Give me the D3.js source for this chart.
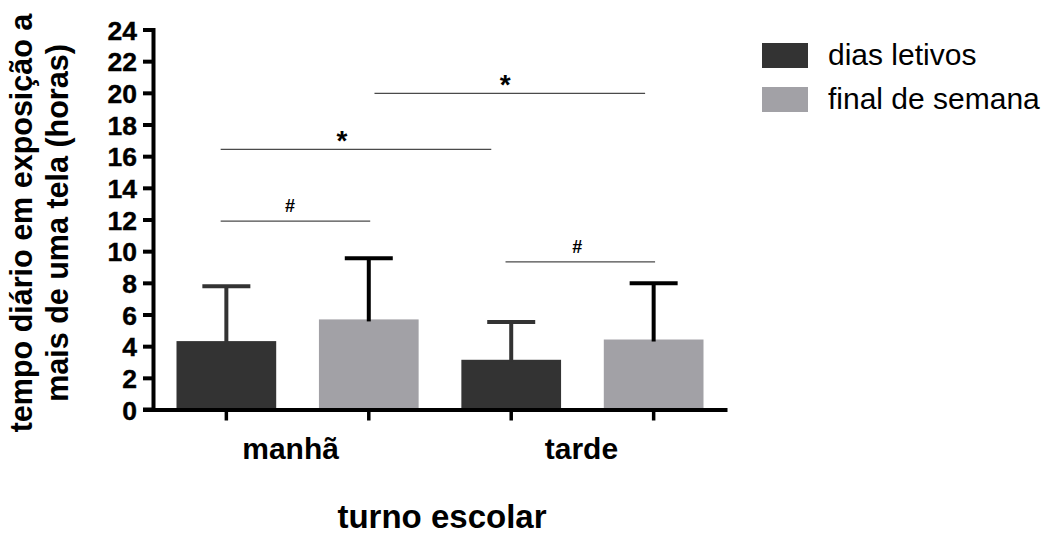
<!DOCTYPE html>
<html>
<head>
<meta charset="utf-8">
<script src="https://cdn.jsdelivr.net/npm/d3@7"></script>
<style>
  html, body { margin: 0; padding: 0; background: #fff; }
  svg { display: block; }
  text { font-family: "Liberation Sans", Arial, sans-serif; fill: #000; }
</style>
</head>
<body>
<svg id="chart" width="1048" height="534"></svg>
<script>
// ---- data ----
const groups = ["manhã", "tarde"];
const series = ["dias letivos", "final de semana"];
const meanDiasLetivos = [4.32, 3.14];
const meanFinalSemana = [5.69, 4.42];
const sdDiasLetivos = [3.47, 2.38];
const sdFinalSemana = [3.87, 3.56];
const yTicks = [0, 2, 4, 6, 8, 10, 12, 14, 16, 18, 20, 22, 24];
// significance brackets (x in bar-index units, y in hours)
const sigFrom = [-0.04, -0.04, 1.04, 1.96];
const sigTo = [1.01, 1.86, 2.94, 3.01];
const sigY = [11.9, 16.43, 19.97, 9.33];
const sigLabelX = [0.447, 0.812, 1.957, 2.463];
const sigLabel = ["#", "*", "*", "#"];

const yTitle = ["tempo diário em exposição a", "mais de uma tela (horas)"];
const xTitle = "turno escolar";

// ---- build ----
const colors = ["#333333", "#a2a1a6"];
const errColors = ["#333333", "#000000"];
const means = [meanDiasLetivos, meanFinalSemana];
const sds = [sdDiasLetivos, sdFinalSemana];

const bars = [];
groups.forEach((g, gi) => {
  series.forEach((s, si) => {
    bars.push({ key: g + "|" + s, group: g, gi, si, mean: means[si][gi], sd: sds[si][gi] });
  });
});

const svg = d3.select("#chart");

const x = d3.scaleBand()
  .domain(bars.map(d => d.key))
  .range([153, 727])
  .paddingInner(0.3)
  .paddingOuter(0.165);

const y = d3.scaleLinear().domain([0, 24]).range([409.5, 29.5]);

const centerOf = k => x(k) + x.bandwidth() / 2;
const idx = d3.scaleLinear().domain([0, 3]).range([centerOf(bars[0].key), centerOf(bars[3].key)]);

// bars
svg.append("g").selectAll("rect").data(bars).join("rect")
  .attr("x", d => x(d.key))
  .attr("width", x.bandwidth())
  .attr("y", d => y(d.mean))
  .attr("height", d => y(0) - y(d.mean))
  .attr("fill", d => colors[d.si]);

// error bars (upper only)
const eb = svg.append("g").selectAll("g").data(bars).join("g");
eb.append("line")
  .attr("x1", d => centerOf(d.key)).attr("x2", d => centerOf(d.key))
  .attr("y1", d => y(d.mean) + 2).attr("y2", d => y(d.mean + d.sd))
  .attr("stroke", d => errColors[d.si]).attr("stroke-width", 4);
eb.append("line")
  .attr("x1", d => centerOf(d.key) - 24).attr("x2", d => centerOf(d.key) + 24)
  .attr("y1", d => y(d.mean + d.sd)).attr("y2", d => y(d.mean + d.sd))
  .attr("stroke", d => errColors[d.si]).attr("stroke-width", 4);

// y axis
const yAxis = svg.append("g")
  .attr("transform", "translate(153,0)")
  .call(d3.axisLeft(y).tickValues(yTicks).tickSize(10).tickSizeOuter(0).tickPadding(6));
yAxis.select(".domain").attr("stroke", "#000").attr("stroke-width", 4).attr("stroke-linecap", "square");
yAxis.selectAll(".tick line").attr("stroke", "#000").attr("stroke-width", 4);
yAxis.selectAll(".tick text")
  .attr("font-family", "Liberation Sans, Arial, sans-serif")
  .attr("font-size", 26.5).attr("font-weight", "bold").attr("fill", "#000")
  .attr("stroke", "#000").attr("stroke-width", 0.4)
  .attr("dy", "0.36em");

// x axis
const xAxis = svg.append("g")
  .attr("transform", `translate(0,${y(0)})`)
  .call(d3.axisBottom(x).tickSize(11).tickSizeOuter(0).tickFormat(""));
xAxis.select(".domain").attr("stroke", "#000").attr("stroke-width", 4);
xAxis.selectAll(".tick line").attr("stroke", "#000").attr("stroke-width", 3.5);
svg.append("line")
  .attr("x1", 143).attr("x2", 155).attr("y1", y(0)).attr("y2", y(0))
  .attr("stroke", "#000").attr("stroke-width", 4);

// group labels
svg.append("g").selectAll("text").data(groups).join("text")
  .attr("x", (g, gi) => d3.mean(bars.filter(b => b.gi === gi), b => centerOf(b.key)) - (gi === 0 ? 7 : 1))
  .attr("y", 459)
  .attr("text-anchor", "middle")
  .attr("font-size", 30).attr("font-weight", "bold")
  .text(g => g);

// x title
svg.append("text")
  .attr("x", 442).attr("y", 528)
  .attr("text-anchor", "middle")
  .attr("font-size", 33).attr("font-weight", "bold")
  .text(xTitle);

// y title
const yt = svg.append("text")
  .attr("transform", "translate(0,223) rotate(-90)")
  .attr("text-anchor", "middle")
  .attr("font-size", 30.5).attr("font-weight", "bold");
yt.append("tspan").attr("x", 0).attr("y", 32).text(yTitle[0]);
yt.append("tspan").attr("x", 0).attr("y", 68).text(yTitle[1]);

// significance brackets
const sig = svg.append("g").selectAll("g").data(sigY.map((v, i) => i)).join("g");
sig.append("line")
  .attr("x1", i => idx(sigFrom[i])).attr("x2", i => idx(sigTo[i]))
  .attr("y1", i => y(sigY[i])).attr("y2", i => y(sigY[i]))
  .attr("stroke", "#4a4a4a").attr("stroke-width", 1.3);
sig.append("text")
  .attr("x", i => idx(sigLabelX[i]))
  .attr("y", i => sigLabel[i] === "#" ? y(sigY[i]) - 9 : y(sigY[i]) + 1)
  .attr("text-anchor", "middle")
  .attr("font-size", i => sigLabel[i] === "#" ? 18 : 28)
  .attr("font-weight", "bold")
  .text(i => sigLabel[i]);

// legend
const lg = svg.append("g").selectAll("g").data(series).join("g")
  .attr("transform", (d, i) => `translate(762,${43 + i * 44})`);
lg.append("rect").attr("width", 46).attr("height", 25).attr("fill", (d, i) => colors[i]);
lg.append("text").attr("x", 66).attr("y", 22)
  .attr("font-size", 30)
  .text(d => d);
</script>
</body>
</html>
